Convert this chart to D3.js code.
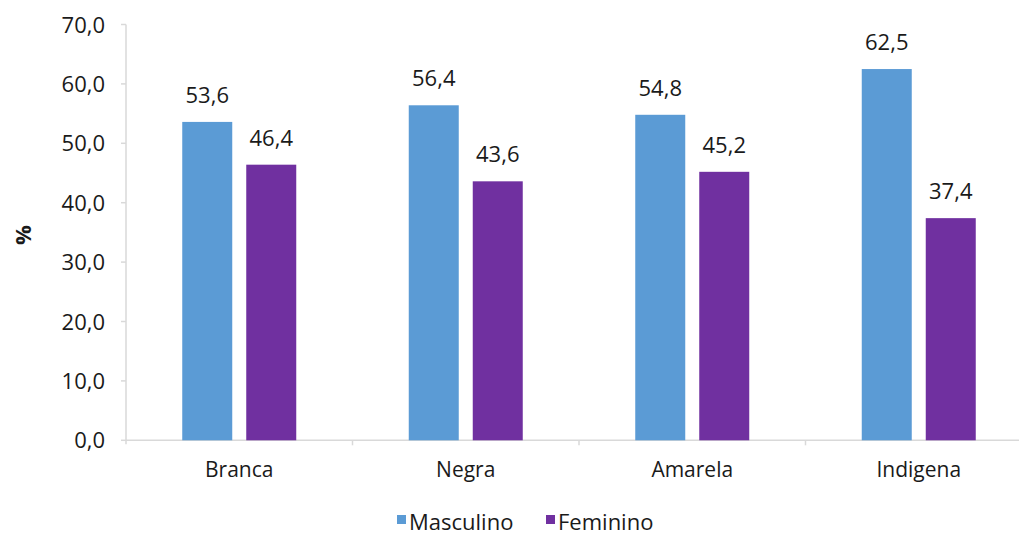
<!DOCTYPE html>
<html><head><meta charset="utf-8">
<script src="https://cdn.jsdelivr.net/npm/d3@7"></script>
<style>body{margin:0;background:#fff}svg{display:block}text{font-family:"Open Sans",sans-serif;fill:#1a1a1a}</style>
</head><body><svg id="c" width="1019" height="536"></svg>
<script>
const categories = ["Branca","Negra","Amarela","Indigena"];
const seriesNames = ["Masculino","Feminino"];
const masculino = [53.6,56.4,54.8,62.5];
const feminino = [46.4,43.6,45.2,37.4];
const yTicks = [0,10,20,30,40,50,60,70];
const colors = ["#5B9BD5","#7030A0"];

const svg = d3.select("#c");
const x0 = 126, bandW = 226.5;
const x = d3.scaleBand().domain(categories).range([x0, x0 + bandW*categories.length]).paddingInner(0).paddingOuter(0);
const y = d3.scaleLinear().domain([0,70]).range([440.3,24.5]);
const barW = 50, gap = 14;
const fmt = v => v.toFixed(1).replace(".", ",");
const fs = 22;

// axes
const ax = "#d9d9d9";
svg.append("line").attr("x1",x0).attr("x2",1019).attr("y1",y(0)).attr("y2",y(0)).attr("stroke",ax).attr("stroke-width",1.5);
svg.append("line").attr("x1",x0).attr("x2",x0).attr("y1",y(70)).attr("y2",y(0)+4).attr("stroke",ax).attr("stroke-width",1.5);
yTicks.forEach(t=>{
  svg.append("line").attr("x1",x0-5).attr("x2",x0).attr("y1",y(t)).attr("y2",y(t)).attr("stroke",ax).attr("stroke-width",1.5);
  svg.append("text").attr("x",105).attr("y",y(t)+8).attr("text-anchor","end").attr("font-size",fs).text(fmt(t));
});
categories.forEach((c,i)=>{
  const bx = x(c)+x.bandwidth();
  svg.append("line").attr("x1",bx).attr("x2",bx).attr("y1",y(0)).attr("y2",y(0)+5).attr("stroke",ax).attr("stroke-width",1.5);
  svg.append("text").attr("x",x(c)+x.bandwidth()/2).attr("y",477).attr("text-anchor","middle").attr("font-size",21).text(c);
});
svg.append("text").attr("transform","translate(31,235) rotate(-90)").attr("text-anchor","middle").attr("font-size",22).attr("font-weight","bold").text("%");

[masculino,feminino].forEach((vals,s)=>{
  categories.forEach((c,i)=>{
    const cx = x(c)+x.bandwidth()/2;
    const bx = s===0 ? cx - gap/2 - barW : cx + gap/2;
    svg.append("rect").attr("x",bx).attr("y",y(vals[i])).attr("width",barW).attr("height",y(0)-y(vals[i])).attr("fill",colors[s]);
    svg.append("text").attr("x",bx+barW/2).attr("y",y(vals[i])-19).attr("text-anchor","middle").attr("font-size",fs).text(fmt(vals[i]));
  });
});

// legend
const lg = [{x:397,tx:409},{x:546,tx:558}];
seriesNames.forEach((n,i)=>{
  svg.append("rect").attr("x",lg[i].x).attr("y",515).attr("width",9).attr("height",9).attr("fill",colors[i]);
  svg.append("text").attr("x",lg[i].tx).attr("y",530).attr("font-size",fs).text(n);
});
</script></body></html>
